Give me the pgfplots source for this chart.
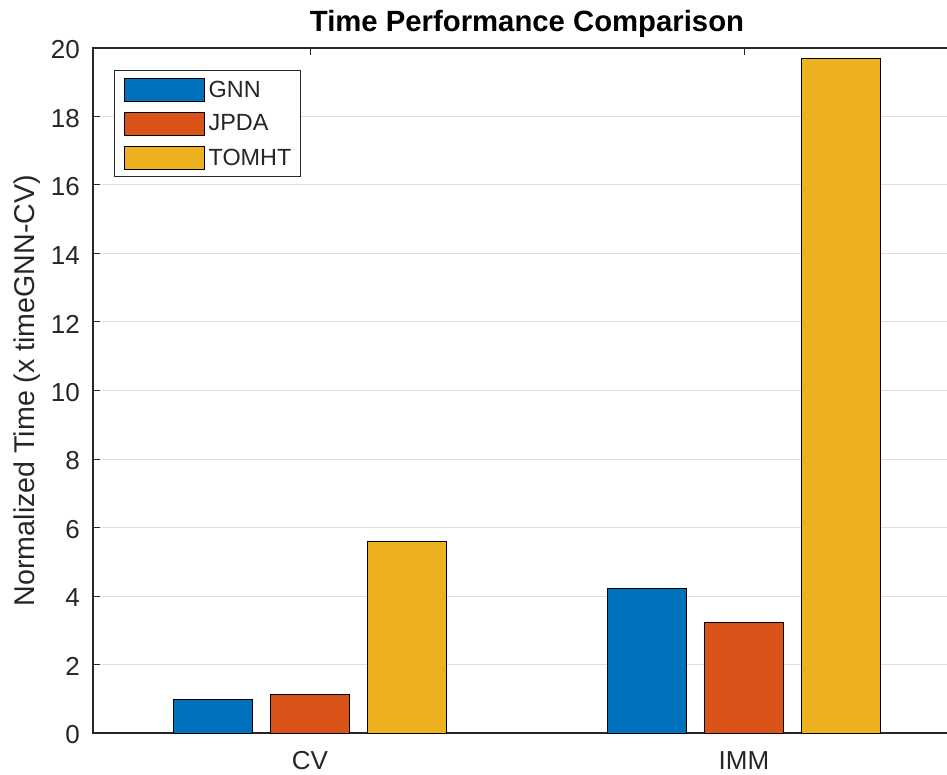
\documentclass[border=0pt]{standalone}
\usepackage{pgfplots}
\pgfplotsset{compat=1.18}
\usepackage{fontspec}
\setmainfont{Liberation Sans}
\definecolor{cA}{RGB}{0,114,189}
\definecolor{cB}{RGB}{217,83,25}
\definecolor{cC}{RGB}{237,177,32}
\definecolor{axc}{RGB}{38,38,38}
\begin{document}
\begin{tikzpicture}
\useasboundingbox (0,0) rectangle (947pt,774pt);
\begin{axis}[
  at={(93pt,41pt)}, anchor=south west,
  scale only axis, width=868pt, height=685pt,
  xmin=0.5, xmax=2.5, ymin=0, ymax=20,
  xtick={1,2}, xticklabels={CV,IMM},
  ytick={0,2,...,20},
  tick align=inside, major tick length=7pt,
  tick style={axc, line width=1pt},
  axis line style={axc, line width=1.3pt},
  ymajorgrids, grid style={gray!25, line width=1pt},
  /pgf/number format/assume math mode=true,
  ticklabel style={font=\fontsize{26}{26}\selectfont, text=axc},
  yticklabel style={anchor=east, inner sep=0pt, xshift=-13pt, yshift=-2pt},
  xticklabel style={anchor=base, inner sep=0pt, yshift=-36pt},
  ylabel={Normalized Time (x timeGNN-CV)},
  every axis y label/.style={at={(rel axis cs:0,0.5)}, xshift=-58pt, rotate=90, anchor=base, font=\fontsize{28.6}{28.6}\selectfont, text=axc},
  title={\bfseries Time Performance Comparison},
  every axis title/.style={at={(rel axis cs:0.5,1)}, anchor=base, yshift=16pt, font=\fontsize{29.3}{29.3}\selectfont},
  legend style={at={(rel axis cs:0,1)}, anchor=north west, xshift=21pt, yshift=-22pt,
    draw=axc, line width=1.3pt, fill=white, inner xsep=9pt, inner ysep=7pt,
    row sep=10pt, column sep=4pt, font=\fontsize{23.4}{23.4}\selectfont, text=axc,
    nodes={inner sep=0pt}},
  legend cell align=left,
]
\addplot[ybar, bar width=0.18, bar shift=0pt, fill=cA, draw=black, line width=1pt,
  legend image code/.code={\draw[fill=cA, draw=black, line width=1pt] (0pt,-11.5pt) rectangle (80pt,11.5pt);}]
  coordinates {(0.7765,0.99) (1.7765,4.23)};
\addlegendentry{GNN}
\addplot[ybar, bar width=0.18, bar shift=0pt, fill=cB, draw=black, line width=1pt,
  legend image code/.code={\draw[fill=cB, draw=black, line width=1pt] (0pt,-11.5pt) rectangle (80pt,11.5pt);}]
  coordinates {(1,1.13) (2,3.23)};
\addlegendentry{JPDA}
\addplot[ybar, bar width=0.18, bar shift=0pt, fill=cC, draw=black, line width=1pt,
  legend image code/.code={\draw[fill=cC, draw=black, line width=1pt] (0pt,-11.5pt) rectangle (80pt,11.5pt);}]
  coordinates {(1.2235,5.58) (2.2235,19.68)};
\addlegendentry{TOMHT}
\end{axis}
\end{tikzpicture}
\end{document}
